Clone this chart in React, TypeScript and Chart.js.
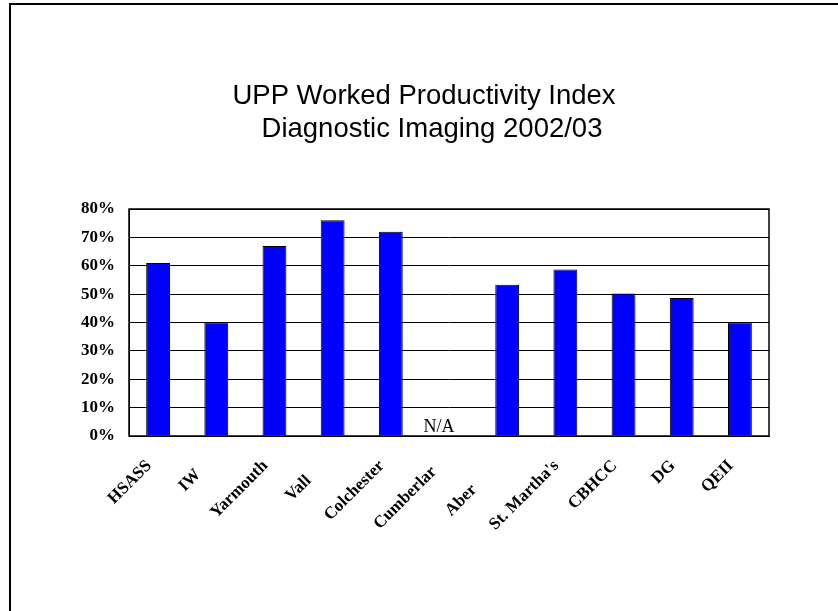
import React, { useEffect, useRef } from "react";
import { Chart, registerables } from "chart.js";

Chart.register(...registerables);

const titleLines = ["UPP Worked Productivity Index", "Diagnostic Imaging 2002/03"];
const categories = ["HSASS", "IW", "Yarmouth", "Vall", "Colchester", "Cumberlar", "Aber", "St. Martha's", "CBHCC", "DG", "QEII"];
// trailing blanks: the reference clips these names, keeping the visible part where it stood
const labelTrail = [0, 3, 0, 5, 0, 2, 8, 0, 0, 0, 0];
const values: (number | null)[] = [61, 40, 67, 76, 72, null, 53.3, 58.7, 50.2, 48.6, 40];
const yTicks = [0, 10, 20, 30, 40, 50, 60, 70, 80];
const naIndex = 5;
const naText = "N/A";

export default function App() {
  const ref = useRef<HTMLCanvasElement>(null);

  useEffect(() => {
    const canvas = ref.current;
    if (!canvas) return;

    const deco = {
      id: "deco",
      beforeDraw(chart: any) {
        const c = chart.ctx;
        c.save();
        c.fillStyle = "#ffffff";
        c.fillRect(0, 0, chart.width, chart.height);
        c.fillStyle = "#000000";
        c.fillRect(9, 3, 2, chart.height);
        c.fillRect(9, 3, chart.width, 2);
        c.font = "27.5px 'Liberation Sans', Arial, sans-serif";
        c.textBaseline = "alphabetic";
        c.textAlign = "center";
        c.fillText(titleLines[0], 424, 104);
        c.fillText(titleLines[1], 432, 137);
        c.restore();
      },
      afterDatasetsDraw(chart: any) {
        const c = chart.ctx;
        const a = chart.chartArea;
        c.save();
        c.strokeStyle = "#000000";
        c.lineWidth = 1.5;
        c.strokeRect(a.left, a.top, a.right - a.left, a.bottom - a.top);
        const xs = chart.scales.x;
        c.fillStyle = "#000000";
        c.font = "18px 'Liberation Serif', 'Times New Roman', serif";
        c.textAlign = "center";
        c.textBaseline = "alphabetic";
        c.fillText(naText, xs.getPixelForValue(naIndex) - 10, a.bottom - 4);
        c.restore();
      },
    };

    const chart = new Chart(canvas, {
      type: "bar",
      data: {
        labels: categories,
        datasets: [
          {
            data: values,
            backgroundColor: "#0000ff",
            borderColor: "#000000",
            borderWidth: 1,
            categoryPercentage: 1,
            barPercentage: 0.41,
          },
        ],
      },
      options: {
        responsive: false,
        animation: false,
        layout: { padding: { top: 209, right: 69, left: 0, bottom: 0 } },
        plugins: {
          legend: { display: false },
          title: { display: false },
          tooltip: { enabled: false },
        },
        scales: {
          x: {
            grid: { display: false, drawTicks: false },
            border: { display: true, color: "#000000", width: 1 },
            afterFit(scale: any) {
              scale.height = 175;
            },
            ticks: {
              autoSkip: false,
              minRotation: 45,
              maxRotation: 45,
              padding: 20,
              labelOffset: -9,
              color: "#000000",
              font: { family: "'Liberation Serif', 'Times New Roman', serif", size: 17, weight: "bold" },
              callback: (_v: any, i: number) => categories[i] + "\u00A0".repeat(labelTrail[i]),
            },
          },
          y: {
            min: 0,
            max: 80,
            afterFit(scale: any) {
              scale.width = 129;
            },
            afterBuildTicks(scale: any) {
              scale.ticks = yTicks.map((v) => ({ value: v }));
            },
            grid: { color: "#000000", lineWidth: 1, drawTicks: false },
            border: { display: true, color: "#000000", width: 1 },
            ticks: {
              padding: 14,
              color: "#000000",
              font: { family: "'Liberation Serif', 'Times New Roman', serif", size: 17, weight: "bold" },
              callback: (v: any) => v + "%",
            },
          },
        },
      },
      plugins: [deco],
    });

    return () => chart.destroy();
  }, []);

  return (
    <div style={{ position: "absolute", left: 0, top: 0, width: 838, height: 611, background: "#fff" }}>
      <canvas ref={ref} width={838} height={611} style={{ display: "block" }} />
    </div>
  );
}
